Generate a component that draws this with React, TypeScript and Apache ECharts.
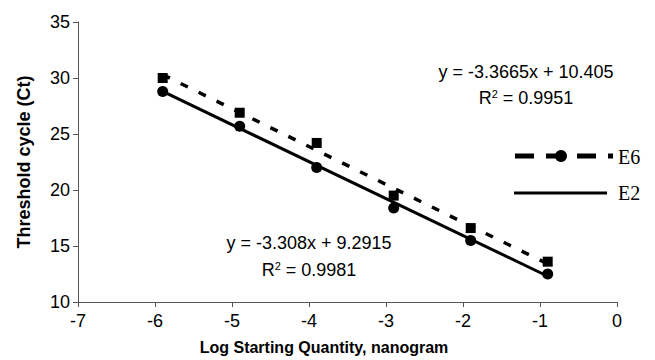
import React, { useEffect, useRef } from "react";
import * as echarts from "echarts";

const xValues = [-5.9, -4.9, -3.9, -2.9, -1.9, -0.9];
const e6Values = [30.0, 26.9, 24.2, 19.5, 16.6, 13.6];
const e2Values = [28.8, 25.7, 22.0, 18.4, 15.5, 12.5];
// trendline endpoints
const e6Trend = [[-5.9, 30.3], [-0.9, 13.4]];
const e2Trend = [[-5.9, 28.8], [-0.9, 12.3]];
const e6Equation = "y = -3.3665x + 10.405";
const e6R2 = "0.9951";
const e2Equation = "y = -3.308x + 9.2915";
const e2R2 = "0.9981";
const xTitle = "Log Starting Quantity, nanogram";
const yTitle = "Threshold cycle (Ct)";

export default function App() {
  const ref = useRef<HTMLDivElement>(null);
  useEffect(() => {
    if (!ref.current) return;
    const chart = echarts.init(ref.current, null, { renderer: "svg" });
    const sans = "Liberation Sans, Arial, sans-serif";
    const serif = "Liberation Serif, Times New Roman, serif";
    const supRich = {
      sup: { fontSize: 11, fontFamily: sans, verticalAlign: "top", padding: [0, 0, 9, 0] },
    };
    chart.setOption({
      animation: false,
      backgroundColor: "#fff",
      grid: {
        left: 78,
        right: 38,
        top: 22,
        bottom: 58,
        containLabel: false,
        outerBoundsMode: "none",
      },
      xAxis: {
        type: "value",
        min: -7,
        max: 0,
        interval: 1,
        name: xTitle,
        nameLocation: "middle",
        nameGap: 37,
        nameTextStyle: {
          fontFamily: sans,
          fontWeight: "bold",
          fontSize: 16,
          color: "#000",
          padding: [0, 47, 0, 0],
        },
        axisLine: { show: true, onZero: false, lineStyle: { color: "#555", width: 1 } },
        axisTick: { show: true, length: 5, lineStyle: { color: "#555" } },
        axisLabel: { fontFamily: sans, fontSize: 18, color: "#000", margin: 10 },
        splitLine: { show: false },
      },
      yAxis: {
        type: "value",
        min: 10,
        max: 35,
        interval: 5,
        name: yTitle,
        nameLocation: "middle",
        nameGap: 45,
        nameRotate: 90,
        nameTextStyle: { fontFamily: sans, fontWeight: "bold", fontSize: 18, color: "#000" },
        axisLine: { show: true, onZero: false, lineStyle: { color: "#555", width: 1 } },
        axisTick: { show: true, length: 5, lineStyle: { color: "#555" } },
        axisLabel: { fontFamily: sans, fontSize: 18, color: "#000", margin: 8 },
        splitLine: { show: false },
      },
      series: [
        {
          name: "E6 trend",
          type: "line",
          data: e6Trend,
          showSymbol: false,
          symbol: "none",
          lineStyle: { color: "#000", width: 3.5, type: [8, 12] },
          z: 2,
        },
        {
          name: "E2 trend",
          type: "line",
          data: e2Trend,
          showSymbol: false,
          symbol: "none",
          lineStyle: { color: "#000", width: 3 },
          z: 2,
        },
        {
          name: "E6",
          type: "scatter",
          data: xValues.map((x, i) => [x, e6Values[i]]),
          symbol: "rect",
          symbolSize: 10,
          itemStyle: { color: "#000", opacity: 1 },
          z: 3,
        },
        {
          name: "E2",
          type: "scatter",
          data: xValues.map((x, i) => [x, e2Values[i]]),
          symbol: "circle",
          symbolSize: 11,
          itemStyle: { color: "#000", opacity: 1 },
          z: 3,
        },
      ],
      graphic: [
        {
          type: "text",
          x: 526,
          y: 72,
          style: {
            text: e6Equation,
            font: `18px ${sans}`,
            fill: "#000",
            align: "center",
            verticalAlign: "middle",
          },
        },
        {
          type: "text",
          x: 526,
          y: 98,
          style: {
            text: `R{sup|2} = ${e6R2}`,
            font: `18px ${sans}`,
            fill: "#000",
            align: "center",
            verticalAlign: "middle",
            rich: supRich,
          },
        },
        {
          type: "text",
          x: 309,
          y: 243,
          style: {
            text: e2Equation,
            font: `18px ${sans}`,
            fill: "#000",
            align: "center",
            verticalAlign: "middle",
          },
        },
        {
          type: "text",
          x: 309,
          y: 270,
          style: {
            text: `R{sup|2} = ${e2R2}`,
            font: `18px ${sans}`,
            fill: "#000",
            align: "center",
            verticalAlign: "middle",
            rich: supRich,
          },
        },
        // legend
        {
          type: "line",
          shape: { x1: 515, y1: 156, x2: 613, y2: 156 },
          style: { stroke: "#000", lineWidth: 5, lineDash: [19, 12] },
        },
        { type: "circle", shape: { cx: 561, cy: 156, r: 6 }, style: { fill: "#000" } },
        {
          type: "text",
          x: 618,
          y: 157,
          style: { text: "E6", font: `20px ${serif}`, fill: "#000", verticalAlign: "middle" },
        },
        {
          type: "line",
          shape: { x1: 514, y1: 193, x2: 607, y2: 193 },
          style: { stroke: "#000", lineWidth: 3 },
        },
        {
          type: "text",
          x: 618,
          y: 193,
          style: { text: "E2", font: `20px ${serif}`, fill: "#000", verticalAlign: "middle" },
        },
      ],
    });
    return () => chart.dispose();
  }, []);
  return <div ref={ref} style={{ width: 655, height: 360, position: "absolute", left: 0, top: 0 }} />;
}
